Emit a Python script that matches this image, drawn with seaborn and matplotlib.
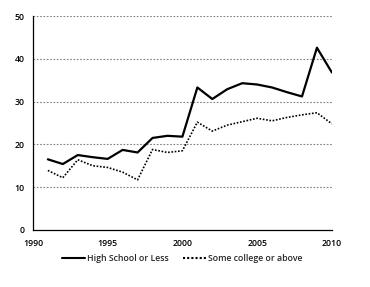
import matplotlib
matplotlib.use("Agg")
import matplotlib.pyplot as plt
import seaborn as sns
import pandas as pd
from matplotlib.ticker import MultipleLocator

years = list(range(1991, 2011))
high_school = [16.5, 15.4, 17.5, 17.0, 16.6, 18.7, 18.1, 21.5, 22.0, 21.8,
               33.3, 30.6, 32.9, 34.3, 34.0, 33.3, 32.2, 31.2, 42.6, 36.8]
some_college = [13.9, 12.2, 16.4, 15.0, 14.6, 13.5, 11.7, 18.8, 18.1, 18.5,
                25.2, 23.1, 24.5, 25.3, 26.1, 25.5, 26.3, 26.9, 27.4, 24.8]
series_names = ["High School or Less", "Some college or above"]

df = pd.concat([
    pd.DataFrame({"year": years, "value": high_school, "series": series_names[0]}),
    pd.DataFrame({"year": years, "value": some_college, "series": series_names[1]}),
])

sns.set_style("white")
plt.rcParams['font.family'] = ['Open Sans', 'DejaVu Sans']

fig = plt.figure(figsize=(3.7, 2.87), dpi=100)
ax = fig.add_axes([0.089, 0.199, 0.808, 0.745])

sns.lineplot(data=df, x="year", y="value", hue="series", style="series",
             palette={series_names[0]: "black", series_names[1]: "black"},
             dashes={series_names[0]: "", series_names[1]: (1, 1)},
             linewidth=1.5, ax=ax, legend=True)
for ln, w in zip(ax.lines, [1.6, 1.2]):
    ln.set_linewidth(w)

ax.set_xlim(1990, 2010)
ax.set_ylim(0, 50)
ax.xaxis.set_major_locator(MultipleLocator(5))
ax.xaxis.set_minor_locator(MultipleLocator(1))
ax.yaxis.set_major_locator(MultipleLocator(10))
ax.yaxis.set_minor_locator(MultipleLocator(5))
ax.set_xlabel("")
ax.set_ylabel("")

for y in [10, 20, 30, 40, 50]:
    ax.axhline(y, color="#808080", linestyle=(0, (1.5, 1.5)), linewidth=0.8, zorder=0)

for s in ["top", "right"]:
    ax.spines[s].set_visible(False)
for s in ["left", "bottom"]:
    ax.spines[s].set_color("black")
    ax.spines[s].set_linewidth(0.9)

ax.tick_params(axis="both", which="both", labelsize=6.3, colors="black", width=0.8)
ax.tick_params(axis="x", which="major", direction="inout", length=5, pad=4)
ax.tick_params(axis="x", which="minor", direction="in", length=3)
ax.tick_params(axis="y", which="major", direction="out", length=3, pad=3)
ax.tick_params(axis="y", which="minor", direction="out", length=3)
for lbl in ax.get_xticklabels() + ax.get_yticklabels():
    lbl.set_fontweight("semibold")

handles, labels = ax.get_legend_handles_labels()
leg = ax.legend(handles, labels, loc="center", bbox_to_anchor=(0.5, -0.135),
                ncol=2, frameon=False, fontsize=6.3, handlelength=2.6,
                columnspacing=1.6, handletextpad=0.3)
for t in leg.get_texts():
    t.set_fontweight("semibold")

fig.savefig("out.png", dpi=100, facecolor="white")
